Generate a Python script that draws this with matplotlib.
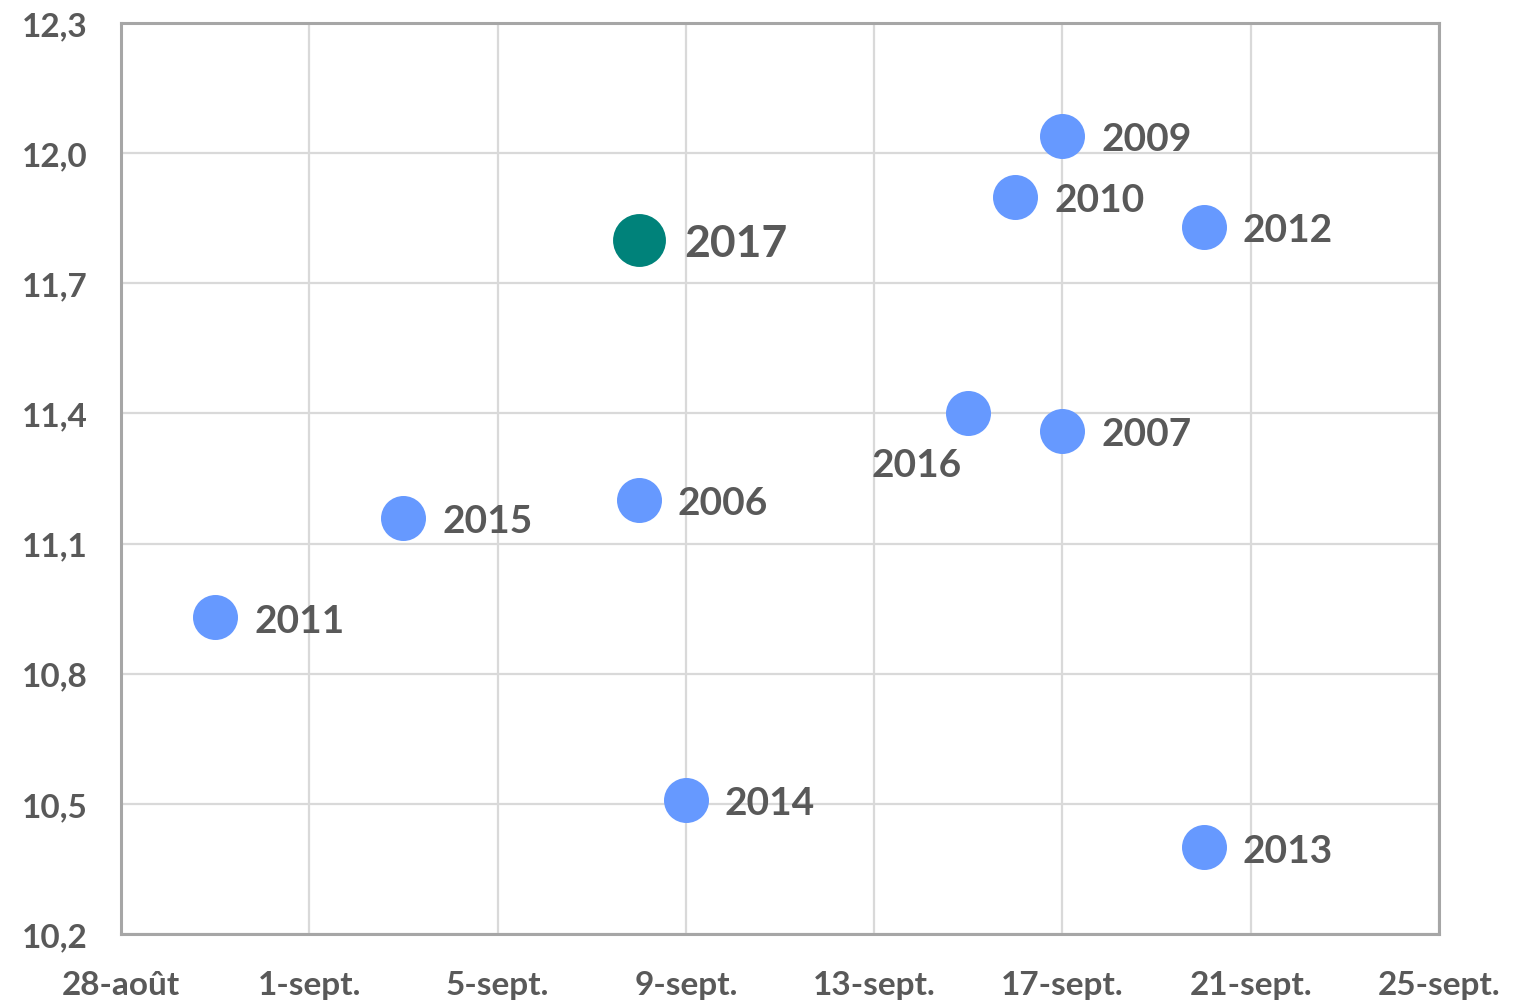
import datetime as dt
import matplotlib
matplotlib.use("Agg")
import matplotlib.pyplot as plt
import matplotlib.dates as mdates

plt.rcParams['font.family'] = ['Lato', 'DejaVu Sans']

# data (date of event, value)
years = ["2006", "2007", "2009", "2010", "2011", "2012", "2013", "2014", "2015", "2016", "2017"]
dates = [dt.datetime(2017, 9, 8), dt.datetime(2017, 9, 17), dt.datetime(2017, 9, 17),
         dt.datetime(2017, 9, 16), dt.datetime(2017, 8, 30), dt.datetime(2017, 9, 20),
         dt.datetime(2017, 9, 20), dt.datetime(2017, 9, 9), dt.datetime(2017, 9, 3),
         dt.datetime(2017, 9, 15), dt.datetime(2017, 9, 8)]
values = [11.20, 11.36, 12.04, 11.90, 10.93, 11.83, 10.40, 10.51, 11.16, 11.40, 11.80]

tick_dates = [dt.datetime(2017, 8, 28), dt.datetime(2017, 9, 1), dt.datetime(2017, 9, 5),
              dt.datetime(2017, 9, 9), dt.datetime(2017, 9, 13), dt.datetime(2017, 9, 17),
              dt.datetime(2017, 9, 21), dt.datetime(2017, 9, 25)]
tick_labels = ["28-août", "1-sept.", "5-sept.", "9-sept.", "13-sept.", "17-sept.", "21-sept.", "25-sept."]
y_ticks = [10.2, 10.5, 10.8, 11.1, 11.4, 11.7, 12.0, 12.3]
y_labels = ["10,2", "10,5", "10,8", "11,1", "11,4", "11,7", "12,0", "12,3"]

text_col = "#595959"
blue = "#6699FF"
teal = "#00827A"

fig = plt.figure(figsize=(15.13, 10.04), dpi=100)
ax = fig.add_axes([121 / 1513, 1 - 935 / 1004, (1439 - 121) / 1513, (935 - 24) / 1004])

x = mdates.date2num(dates)
for i in range(len(years)):
    if years[i] == "2017":
        ax.scatter(x[i], values[i], s=1450, color=teal, zorder=3, linewidths=0)
        ax.annotate(years[i], (x[i], values[i]), xytext=(33, -2), textcoords="offset points",
                    ha="left", va="center", fontsize=32, fontweight="bold", color=text_col)
    else:
        ax.scatter(x[i], values[i], s=1050, color=blue, zorder=3, linewidths=0)
        if years[i] == "2016":
            ax.annotate(years[i], (x[i], values[i]), xytext=(-37, -37), textcoords="offset points",
                        ha="center", va="center", fontsize=28, fontweight="bold", color=text_col)
        else:
            ax.annotate(years[i], (x[i], values[i]), xytext=(28, -2), textcoords="offset points",
                        ha="left", va="center", fontsize=28, fontweight="bold", color=text_col)

ax.set_xlim(mdates.date2num(tick_dates[0]), mdates.date2num(tick_dates[-1]))
ax.set_ylim(10.2, 12.3)
ax.set_xticks(mdates.date2num(tick_dates))
ax.set_xticklabels(tick_labels)
ax.set_yticks(y_ticks)
ax.set_yticklabels(y_labels)
ax.tick_params(axis="both", length=0, labelsize=24, labelcolor=text_col)
ax.tick_params(axis="x", pad=26)
ax.tick_params(axis="y", pad=24)
for lab in ax.get_xticklabels() + ax.get_yticklabels():
    lab.set_fontweight("bold")

ax.grid(True, color="#D9D9D9", linewidth=1.6)
ax.set_axisbelow(True)
for sp in ax.spines.values():
    sp.set_color("#A6A6A6")
    sp.set_linewidth(2.2)

fig.savefig("out.png", dpi=100)
